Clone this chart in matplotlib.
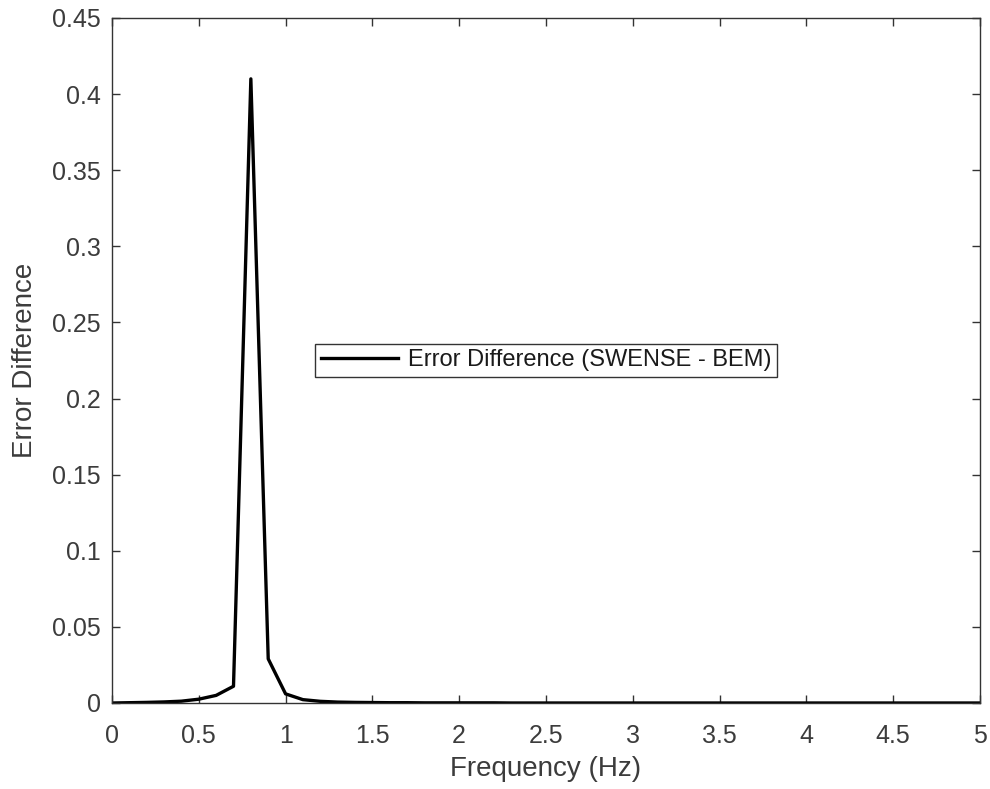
import matplotlib.pyplot as plt
import numpy as np

plt.rcParams['font.family'] = ['Liberation Sans', 'DejaVu Sans']

# frequency samples (Hz), every 0.1 Hz
freq = [round(0.1 * i, 1) for i in range(51)]
err_diff = [0.0, 0.0002, 0.0004, 0.0007, 0.0012, 0.0025, 0.005, 0.011, 0.41, 0.029,
            0.006, 0.0022, 0.0011, 0.0006, 0.0004, 0.0003, 0.0002, 0.0002, 0.0001, 0.0001,
            0.0001, 0.0001, 0.0001, 0.0, 0.0, 0.0, 0.0, 0.0, 0.0, 0.0,
            0.0, 0.0, 0.0, 0.0, 0.0, 0.0, 0.0, 0.0, 0.0, 0.0,
            0.0, 0.0, 0.0, 0.0, 0.0, 0.0, 0.0, 0.0, 0.0, 0.0, 0.0]

x_ticks = [0, 0.5, 1, 1.5, 2, 2.5, 3, 3.5, 4, 4.5, 5]
x_labels = ['0', '0.5', '1', '1.5', '2', '2.5', '3', '3.5', '4', '4.5', '5']
y_ticks = [0, 0.05, 0.1, 0.15, 0.2, 0.25, 0.3, 0.35, 0.4, 0.45]
y_labels = ['0', '0.05', '0.1', '0.15', '0.2', '0.25', '0.3', '0.35', '0.4', '0.45']

grey = '#333333'
text_grey = '#3c3c3c'

fig = plt.figure(figsize=(9.9, 7.89), dpi=100)
ax = fig.add_axes([0.1131, 0.109, 0.8768, 0.8682])

ax.plot(freq, err_diff, color='black', lw=2.4, label='Error Difference (SWENSE - BEM)')

ax.set_xlim(0, 5)
ax.set_ylim(0, 0.45)
ax.set_xticks(x_ticks)
ax.set_xticklabels(x_labels)
ax.set_yticks(y_ticks)
ax.set_yticklabels(y_labels)
ax.tick_params(direction='in', top=True, right=True, length=6, width=1,
               colors=grey, labelcolor=text_grey, labelsize=18)
ax.tick_params(axis='x', pad=15)
ax.tick_params(axis='y', pad=8)
for s in ax.spines.values():
    s.set_color(grey)
    s.set_linewidth(1)

ax.set_xlabel('Frequency (Hz)', fontsize=20, color=text_grey, labelpad=6)
ax.set_ylabel('Error Difference', fontsize=20, color=text_grey, labelpad=10)

leg = ax.legend(loc='center', fontsize=17, fancybox=False, framealpha=1,
                edgecolor=grey, borderpad=0.25, handlelength=3.3, handletextpad=0.4,
                borderaxespad=0)
leg.get_frame().set_linewidth(1)
for t in leg.get_texts():
    t.set_color('#1a1a1a')

fig.savefig('out.png', dpi=100)
